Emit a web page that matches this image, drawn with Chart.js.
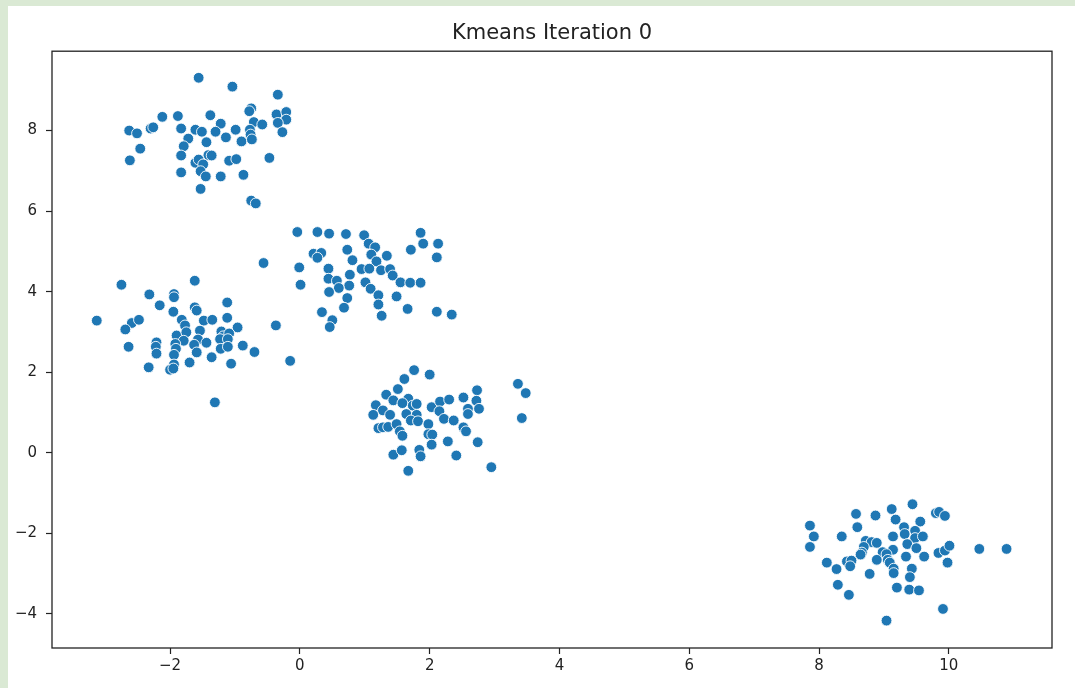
<!DOCTYPE html>
<html>
<head>
<meta charset="utf-8">
<script src="https://cdn.jsdelivr.net/npm/chart.js@4/dist/chart.umd.min.js"></script>
<style>
  html, body { margin: 0; padding: 0; background: #dae9d4; }
  #frame { position: absolute; left: 8px; top: 6px; right: 0; bottom: 0; background: #ffffff; }
  #kmeans { position: absolute; left: 0; top: 0; }
</style>
</head>
<body>
<div id="frame"></div>
<canvas id="kmeans" width="1075" height="688"></canvas>
<script>
// points, [x, y], grouped by blob
const clusterA = [
  [-1.56,9.31],[-1.04,9.09],[-0.34,8.89],[-0.75,8.55],[-0.78,8.48],[-0.36,8.40],[-0.21,8.46],[-0.21,8.27],
  [-0.34,8.19],[-0.27,7.96],[-2.12,8.34],[-1.88,8.36],[-1.38,8.38],[-2.63,8.00],[-2.51,7.93],[-2.30,8.05],
  [-2.26,8.08],[-1.83,8.05],[-1.61,8.02],[-1.51,7.97],[-1.22,8.17],[-1.30,7.97],[-1.14,7.83],[-0.99,8.02],
  [-0.90,7.73],[-0.71,8.21],[-0.58,8.15],[-0.77,8.02],[-0.76,7.90],[-0.74,7.78],[-1.72,7.80],[-1.79,7.61],
  [-1.44,7.71],[-2.46,7.55],[-2.62,7.26],[-1.83,7.38],[-1.41,7.39],[-1.36,7.38],[-1.61,7.20],[-1.56,7.28],
  [-1.49,7.16],[-1.09,7.25],[-0.98,7.29],[-0.47,7.32],[-1.83,6.96],[-1.53,6.99],[-1.45,6.86],[-1.22,6.86],
  [-0.87,6.90],[-1.53,6.55],[-0.75,6.26],[-0.68,6.19]
];
const clusterB = [
  [-0.56,4.71],[-2.75,4.17],[-1.62,4.27],[-2.32,3.93],[-1.94,3.94],[-1.94,3.86],[-2.16,3.66],[-1.95,3.50],
  [-1.62,3.61],[-1.59,3.53],[-1.12,3.73],[-3.13,3.28],[-2.59,3.22],[-2.48,3.30],[-2.69,3.06],[-1.82,3.30],
  [-1.77,3.16],[-1.48,3.28],[-1.35,3.30],[-1.12,3.35],[-0.96,3.11],[-0.37,3.16],[-1.90,2.91],[-1.75,2.99],
  [-1.54,3.03],[-1.21,3.01],[-1.18,2.89],[-1.09,2.96],[-1.79,2.78],[-1.57,2.81],[-1.44,2.73],[-1.23,2.82],
  [-1.11,2.82],[-2.21,2.74],[-2.22,2.63],[-2.64,2.63],[-1.92,2.70],[-1.91,2.58],[-1.63,2.68],[-0.88,2.66],
  [-2.21,2.46],[-1.94,2.43],[-1.59,2.49],[-1.22,2.58],[-1.11,2.63],[-0.70,2.50],[-1.36,2.37],[-2.33,2.12],
  [-1.94,2.19],[-2.00,2.06],[-1.95,2.09],[-1.70,2.24],[-1.06,2.21],[-0.15,2.28],[-1.31,1.25]
];
const clusterC = [
  [-0.04,5.48],[0.27,5.48],[0.45,5.44],[0.71,5.43],[0.99,5.40],[1.86,5.46],[1.06,5.19],[1.16,5.10],
  [1.90,5.19],[2.13,5.19],[1.71,5.04],[2.11,4.85],[0.21,4.94],[0.33,4.96],[0.27,4.84],[0.73,5.04],
  [1.10,4.92],[1.34,4.89],[0.81,4.78],[1.18,4.75],[-0.01,4.60],[0.44,4.57],[0.95,4.56],[1.07,4.57],
  [1.25,4.53],[1.39,4.56],[1.43,4.40],[0.77,4.42],[0.44,4.32],[0.57,4.27],[0.76,4.15],[0.60,4.09],
  [1.01,4.23],[1.55,4.23],[1.70,4.22],[1.86,4.22],[0.01,4.17],[1.09,4.07],[0.45,3.99],[0.73,3.84],
  [1.21,3.91],[1.49,3.88],[1.21,3.68],[0.68,3.60],[1.66,3.57],[2.11,3.50],[2.34,3.43],[0.34,3.49],
  [1.26,3.40],[0.50,3.29],[0.46,3.12]
];
const clusterD = [
  [1.76,2.05],[2.00,1.94],[1.61,1.83],[1.51,1.58],[1.33,1.44],[1.44,1.30],[1.67,1.34],[1.17,1.18],
  [1.28,1.05],[1.13,0.94],[1.39,0.94],[1.58,1.23],[1.74,1.17],[1.80,1.21],[1.64,0.96],[1.80,0.94],
  [1.71,0.80],[1.82,0.78],[1.21,0.61],[1.28,0.63],[1.36,0.64],[1.49,0.71],[1.54,0.53],[1.58,0.42],
  [1.98,0.71],[2.03,1.13],[2.16,1.27],[2.30,1.32],[2.15,1.03],[2.52,1.37],[2.73,1.55],[2.72,1.29],
  [2.59,1.09],[2.59,0.96],[2.76,1.09],[2.22,0.84],[2.37,0.80],[2.52,0.63],[2.56,0.53],[1.98,0.46],
  [2.04,0.45],[2.03,0.20],[2.28,0.28],[2.74,0.26],[1.44,-0.05],[1.57,0.06],[1.84,0.07],[1.86,-0.09],
  [2.41,-0.07],[1.67,-0.45],[2.95,-0.36],[3.36,1.71],[3.48,1.48],[3.42,0.86]
];
const clusterE = [
  [9.44,-1.28],[9.12,-1.40],[8.57,-1.52],[8.87,-1.56],[9.80,-1.50],[9.85,-1.47],[9.94,-1.57],[9.18,-1.66],
  [9.56,-1.71],[7.86,-1.81],[8.59,-1.85],[9.31,-1.85],[9.48,-1.94],[9.32,-2.02],[7.92,-2.08],[8.35,-2.08],
  [9.14,-2.08],[9.48,-2.12],[9.60,-2.08],[8.72,-2.19],[8.81,-2.22],[8.89,-2.24],[9.36,-2.27],[7.86,-2.34],
  [8.69,-2.34],[8.66,-2.48],[8.64,-2.53],[9.14,-2.41],[9.50,-2.37],[8.98,-2.47],[9.04,-2.52],[9.34,-2.58],
  [9.62,-2.58],[9.84,-2.49],[9.94,-2.43],[10.01,-2.31],[10.47,-2.39],[10.89,-2.39],[8.89,-2.66],[9.06,-2.66],
  [9.09,-2.73],[8.43,-2.70],[8.50,-2.68],[8.48,-2.82],[8.12,-2.73],[9.98,-2.73],[8.27,-2.89],[9.15,-2.88],
  [9.15,-2.99],[9.43,-2.88],[8.78,-3.01],[9.40,-3.09],[8.29,-3.28],[9.20,-3.35],[9.39,-3.40],[9.54,-3.42],
  [8.46,-3.53],[9.91,-3.88],[9.04,-4.17]
];

const xTicks = [-2, 0, 2, 4, 6, 8, 10];
const yTicks = [-4, -2, 0, 2, 4, 6, 8];
const chartTitle = 'Kmeans Iteration 0';

const allPoints = [...clusterA, ...clusterB, ...clusterC, ...clusterD, ...clusterE]
  .map(([x, y]) => ({ x, y }));

const minus = (v) => String(v).replace('-', '\u2212');
const font = 'DejaVu Sans';
const ink = '#222222';

// matplotlib draws all four spines
const boxPlugin = {
  id: 'box',
  afterDatasetsDraw(chart) {
    const { ctx, chartArea: a } = chart;
    ctx.save();
    ctx.strokeStyle = ink;
    ctx.lineWidth = 1.3;
    ctx.strokeRect(a.left, a.top, a.right - a.left, a.bottom - a.top);
    ctx.restore();
  }
};

new Chart(document.getElementById('kmeans').getContext('2d'), {
  type: 'scatter',
  data: {
    datasets: [{
      data: allPoints,
      backgroundColor: '#1f77b4',
      borderColor: '#ffffff',
      borderWidth: 0.9,
      pointRadius: 5.4,
      pointHoverRadius: 5.4,
    }],
  },
  options: {
    responsive: false,
    animation: false,
    devicePixelRatio: 1,
    layout: { padding: { top: 0, right: 23, bottom: 0, left: 0 } },
    plugins: {
      legend: { display: false },
      tooltip: { enabled: false },
      title: {
        display: true,
        fullSize: false,
        text: chartTitle,
        color: ink,
        font: { family: font, size: 21, weight: 'normal' },
        padding: { top: 21, bottom: 5 },
      },
    },
    scales: {
      x: {
        type: 'linear',
        min: -3.82,
        max: 11.59,
        afterBuildTicks: (s) => { s.ticks = xTicks.map((v) => ({ value: v })); },
        afterFit: (s) => { s.height = 40; },
        border: { display: false },
        grid: { drawOnChartArea: false, drawTicks: true, tickLength: 6, color: ink, tickWidth: 1.2 },
        ticks: {
          color: ink,
          padding: 3,
          maxRotation: 0,
          font: { family: font, size: 15 },
          callback: (v) => minus(v),
        },
      },
      y: {
        type: 'linear',
        min: -4.85,
        max: 9.97,
        afterBuildTicks: (s) => { s.ticks = yTicks.map((v) => ({ value: v })); },
        afterFit: (s) => { s.width = 52; },
        border: { display: false },
        grid: { drawOnChartArea: false, drawTicks: true, tickLength: 6, color: ink, tickWidth: 1.2 },
        ticks: {
          color: ink,
          padding: 9,
          font: { family: font, size: 15 },
          callback: (v) => minus(v),
        },
      },
    },
  },
  plugins: [boxPlugin],
});
</script>
</body>
</html>
